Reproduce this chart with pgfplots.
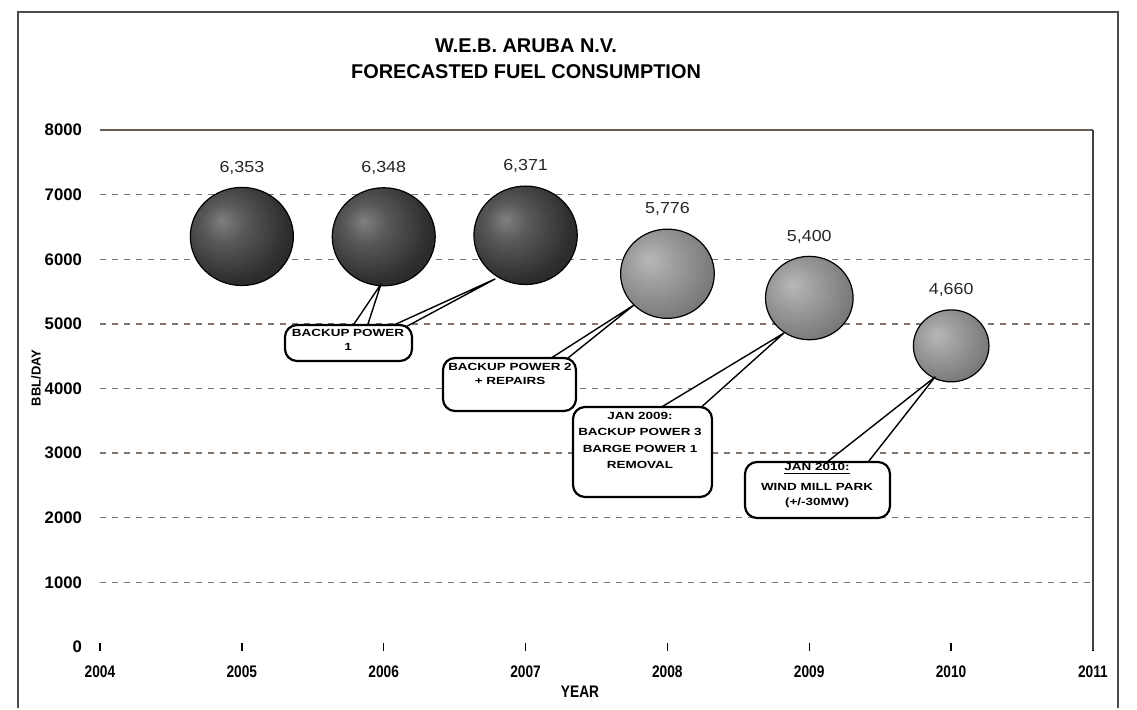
\documentclass[border=0pt]{standalone}
\usepackage{pgfplots}
\pgfplotsset{compat=1.18}
\usepackage{pgfplotstable}
\usepackage{fontspec}
\setmainfont{Liberation Sans}
\newfontfamily\widefont{Liberation Sans}[FakeStretch=1.12]
\newfontfamily\callfont{Liberation Sans}[FakeStretch=1.3]
\newfontfamily\narrowfont{Liberation Sans}[FakeStretch=0.82]
\definecolor{gridc}{RGB}{130,115,108}

% shaded bubbles, radius taken from \brad (set per point)
\pgfdeclareradialshading{darkshade}{\pgfpoint{-10bp}{8bp}}{color(0bp)=(black!50); color(10bp)=(black!65); color(28bp)=(black!82); color(45bp)=(black!88); color(75bp)=(black!92)}
\pgfdeclareradialshading{greyshade}{\pgfpoint{-10bp}{8bp}}{color(0bp)=(black!28); color(12bp)=(black!38); color(30bp)=(black!52); color(48bp)=(black!64); color(75bp)=(black!74)}
\pgfdeclareplotmark{darkball}{\pgfpathellipse{\pgfpointorigin}{\pgfpoint{1.05*\brad pt}{0pt}}{\pgfpoint{0pt}{\brad pt}}\pgfshadepath{darkshade}{0}\pgfusepath{stroke}}
\pgfdeclareplotmark{greyball}{\pgfpathellipse{\pgfpointorigin}{\pgfpoint{1.05*\brad pt}{0pt}}{\pgfpoint{0pt}{\brad pt}}\pgfshadepath{greyshade}{0}\pgfusepath{stroke}}

\pgfplotstableread{
x y
2005 6353
2006 6348
2007 6371
}\darkdata
\pgfplotstableread{
x y
2008 5776
2009 5400
2010 4660
}\greydata

\tikzset{
  callbox/.style={draw=black, line width=1.1bp, fill=white, rounded corners=6bp},
  wedge/.style={draw=black, line width=0.7bp, fill=white, line join=round},
  calltext/.style={font=\callfont\bfseries\fontsize{5.2}{6}\selectfont, inner sep=0pt},
}
\pgfplotsset{
  bubble/.style={scatter, only marks, point meta=\thisrow{y},
    scatter/use mapped color={draw=black, fill=black},
    visualization depends on={\thisrow{y}/258 \as \brad},
    scatter/@pre marker code/.append style={/tikz/mark size=\brad},
    mark options={line width=0.6bp},
    nodes near coords={\pgfmathprintnumber[1000 sep={,},assume math mode=true]{\pgfplotspointmeta}},
    every node near coord/.append style={font=\widefont\fontsize{8}{9}\selectfont, text=black!85, anchor=south, yshift={(\brad+3)*1pt}}},
}

\begin{document}
\begin{tikzpicture}
\begin{axis}[
  at={(0,0)}, anchor=south west,
  scale only axis, width=496.5bp, height=258.5bp,
  xmin=2004, xmax=2011, ymin=0, ymax=8000,
  clip=false,
  axis line style={draw=none},
  xtick={2004,...,2011}, xtick pos=left,
  ytick={1000,2000,...,8000},
  extra y ticks={0}, extra y tick style={grid=none},
  ymajorgrids, major grid style={gridc, line width=0.7bp, dash pattern=on 3bp off 3bp},
  ytick style={draw=none},
  xtick style={black, line width=0.7bp},
  major tick length=4bp, tick align=center,
  /pgf/number format/1000 sep={},
  /pgf/number format/assume math mode=true,
  yticklabel style={font=\bfseries\fontsize{8.4}{9}\selectfont, xshift=-3.5bp},
  xticklabel style={font=\narrowfont\bfseries\fontsize{8.4}{9}\selectfont, yshift=-4bp},
]
\addplot[bubble, mark=darkball] table {\darkdata};
\addplot[bubble, mark=greyball] table {\greydata};
\draw[gridc!80!black, line width=0.9bp] (axis cs:2004,8000) -- (axis cs:2011,8000);
\draw[black!75, line width=0.7bp] (axis cs:2011,-50) -- (axis cs:2011,8000);
\end{axis}

% pixel frame of the reference (origin top left, 1px = 0.5bp)
\begin{scope}[shift={(-50bp,323.5bp)}, x=0.5bp, y=-0.5bp]
  \path (0,0) rectangle (1137,708);
  \draw[black!70, line width=1bp] (18,708) -- (18,12) -- (1118,12) -- (1118,708);
  \node[font=\bfseries\fontsize{10}{12}\selectfont] at (526,46) {W.E.B. ARUBA N.V.};
  \node[font=\bfseries\fontsize{10}{12}\selectfont] at (526,72) {FORECASTED FUEL CONSUMPTION};
  \node[font=\bfseries\fontsize{6.5}{8}\selectfont, rotate=90] at (36,378) {BBL/DAY};
  \node[font=\narrowfont\bfseries\fontsize{8.4}{9}\selectfont] at (580,692) {YEAR};

  % callout 1
  \draw[wedge] (350,330) -- (381,284) -- (366,330);
  \draw[wedge] (383,330) -- (495,279) -- (400,330);
  \draw[callbox] (285,325) rectangle (412,361);
  \node[calltext] at (348,333) {BACKUP POWER};
  \node[calltext] at (348,347) {1};

  % callout 2
  \draw[wedge] (545,362) -- (634,305) -- (563,362);
  \draw[callbox] (443,358) rectangle (576,411);
  \node[calltext] at (510,367) {BACKUP POWER 2};
  \node[calltext] at (510,381) {+ REPAIRS};

  % callout 3
  \draw[wedge] (655,411) -- (784,333) -- (697,411);
  \draw[callbox] (573,407) rectangle (712,497);
  \node[calltext] at (640,416) {JAN 2009:};
  \node[calltext] at (640,432) {BACKUP POWER 3};
  \node[calltext] at (640,449) {BARGE POWER 1};
  \node[calltext] at (640,465) {REMOVAL};

  % callout 4
  \draw[wedge] (822,466) -- (935,377) -- (865,466);
  \draw[callbox] (745,462) rectangle (890,518);
  \node[calltext] at (817,469) {\underline{JAN 2010:}};
  \node[calltext] at (817,487) {WIND MILL PARK};
  \node[calltext] at (817,503) {(+/-30MW)};
\end{scope}
\end{tikzpicture}
\end{document}
